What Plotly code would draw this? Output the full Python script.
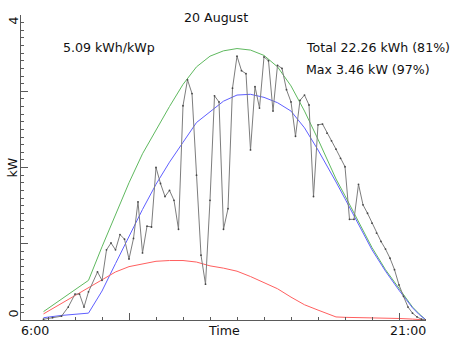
import plotly.graph_objects as go

# ---- measured output (10-minute samples) ----
meas_times = ["06:50","07:10","07:30","07:45","08:00","08:10","08:20","08:30","08:50","09:00",
              "09:10","09:20","09:30","09:40","09:50","10:00","10:10","10:20","10:30","10:40",
              "10:50","11:00","11:10","11:20","11:30","11:40","11:50","12:00","12:10","12:20",
              "12:30","12:40","12:50","13:00","13:10","13:20","13:30","13:40","13:50","14:00",
              "14:10","14:20","14:30","14:40","14:50","15:00","15:10","15:20","15:30","15:40",
              "15:50","16:00","16:10","16:20","16:30","16:40","16:50","17:00","17:10","17:20",
              "17:30","17:40","17:50","18:00","18:10","18:20","18:30","18:40","18:50","19:00",
              "19:10","19:20","19:30","19:40","19:50","20:00","20:10","20:20","20:30","20:40",
              "20:50","21:00"]
meas_kw = [0.01,0.03,0.05,0.17,0.34,0.34,0.17,0.37,0.63,0.52,
           0.92,1.01,0.92,1.12,1.06,0.80,1.07,1.55,0.88,1.23,
           1.22,2.00,1.79,1.62,1.70,1.57,1.19,2.81,3.15,2.97,
           1.90,0.85,0.47,1.57,2.94,2.86,1.19,1.46,3.04,3.46,
           3.27,3.23,2.23,3.06,2.78,3.45,3.40,2.74,3.34,3.30,
           3.02,2.86,2.41,2.88,2.95,2.82,1.62,2.56,2.57,2.45,
           2.35,2.24,2.12,2.01,1.32,1.32,1.78,1.51,1.40,1.27,
           1.14,1.03,0.93,0.81,0.66,0.46,0.31,0.17,0.09,0.04,
           0.01,0.00]

# ---- model curves ----
model_times = ["06:50","07:30","08:30","09:00","09:30","10:00","10:30","11:00","11:30","12:00",
               "12:30","13:00","13:30","14:00","14:30","15:00","15:30","16:00","16:30","17:00",
               "17:30","17:40","18:00","18:30","19:00","19:30","20:00","20:30","20:45","21:00"]
clear_total_kw = [0.11,0.27,0.52,0.96,1.39,1.80,2.18,2.50,2.80,3.09,
                  3.32,3.46,3.53,3.56,3.54,3.47,3.32,3.07,2.74,2.37,
                  1.98,1.85,1.63,1.28,0.95,0.66,0.41,0.17,0.08,0.00]
beam_kw = [0.03,0.06,0.09,0.38,0.74,1.10,1.45,1.78,2.07,2.33,
           2.59,2.73,2.87,2.95,2.96,2.92,2.85,2.74,2.52,2.23,
           1.92,1.81,1.59,1.25,0.92,0.64,0.39,0.16,0.07,0.00]
diffuse_kw = [0.08,0.22,0.43,0.53,0.63,0.70,0.74,0.77,0.78,0.78,
              0.76,0.71,0.68,0.64,0.57,0.49,0.41,0.30,0.20,0.13,
              0.06,0.04,0.035,0.033,0.03,0.025,0.02,0.012,0.008,0.0]

# ---- texts ----
title_text = "20 August"
specific_text = "5.09 kWh/kWp"
total_text = "Total 22.26 kWh (81%)"
max_text = "Max 3.46 kW (97%)"
x_labels = ["6:00", "Time", "21:00"]
y_labels = ["0", "kW", "4"]


def hours(s):
    h, m = s.split(":")
    return int(h) + int(m) / 60.0


mt = [hours(s) for s in model_times]
xt = [hours(s) for s in meas_times]

FONT = "DejaVu Sans"
FS = 12.6

fig = go.Figure()
fig.add_trace(go.Scatter(x=mt, y=clear_total_kw, mode="lines",
                         line=dict(color="rgb(95,185,95)", width=1), hoverinfo="skip"))
fig.add_trace(go.Scatter(x=mt, y=beam_kw, mode="lines",
                         line=dict(color="rgb(95,95,255)", width=1), hoverinfo="skip"))
fig.add_trace(go.Scatter(x=mt, y=diffuse_kw, mode="lines",
                         line=dict(color="rgb(255,95,95)", width=1), hoverinfo="skip"))
fig.add_trace(go.Scatter(x=xt, y=meas_kw, mode="lines+markers",
                         line=dict(color="rgb(125,125,125)", width=1),
                         marker=dict(color="rgb(70,70,70)", size=1.8), hoverinfo="skip"))

W, H = 452, 339
L, R, T, B = 21, 26, 15, 19
pw, ph = W - L - R, H - T - B


def px_x(p):
    return (p - L) / pw


def px_y(p):
    return (H - B - p) / ph


anns = []
tf = dict(family=FONT, size=FS, color="#111")
anns.append(dict(text=title_text, xref="paper", yref="paper", x=px_x(216), y=px_y(17),
                 xanchor="center", yanchor="middle", showarrow=False, font=tf))
anns.append(dict(text=specific_text, xref="paper", yref="paper", x=px_x(61), y=px_y(47),
                 xanchor="left", yanchor="middle", showarrow=False, font=tf))
anns.append(dict(text=total_text, xref="paper", yref="paper", x=px_x(304), y=px_y(47),
                 xanchor="left", yanchor="middle", showarrow=False, font=tf))
anns.append(dict(text=max_text, xref="paper", yref="paper", x=px_x(304), y=px_y(69),
                 xanchor="left", yanchor="middle", showarrow=False, font=tf))
# x axis labels
anns.append(dict(text=x_labels[0], xref="x", yref="paper", x=6, y=0, xanchor="left",
                 yanchor="top", xshift=-2, yshift=-1, showarrow=False, font=tf))
anns.append(dict(text=x_labels[1], xref="x", yref="paper", x=13.5, y=0, xanchor="center",
                 yanchor="top", yshift=-1, showarrow=False, font=tf))
anns.append(dict(text=x_labels[2], xref="x", yref="paper", x=21, y=0, xanchor="right",
                 yanchor="top", xshift=2, yshift=-1, showarrow=False, font=tf))
# y axis labels (rotated)
anns.append(dict(text=y_labels[0], xref="paper", yref="y", x=px_x(12.5), y=0, xanchor="center",
                 yanchor="bottom", textangle=-90, showarrow=False, font=tf))
anns.append(dict(text=y_labels[1], xref="paper", yref="y", x=px_x(12), y=2, xanchor="center",
                 yanchor="middle", textangle=-90, showarrow=False, font=tf))
anns.append(dict(text=y_labels[2], xref="paper", yref="y", x=px_x(12.5), y=4, xanchor="center",
                 yanchor="top", textangle=-90, showarrow=False, font=tf))

axis_col = "rgb(90,90,90)"
fig.update_layout(
    width=W, height=H,
    margin=dict(l=L, r=R, t=T, b=B, pad=0),
    paper_bgcolor="white", plot_bgcolor="white",
    showlegend=False,
    font=dict(family=FONT, size=FS, color="#111"),
    annotations=anns,
    xaxis=dict(range=[6, 21], showgrid=False, zeroline=False, showline=True,
               linecolor=axis_col, linewidth=1, showticklabels=False,
               tickmode="array", tickvals=[10, 20], ticks="inside", ticklen=7,
               tickcolor=axis_col, tickwidth=1,
               minor=dict(dtick=1, tick0=6, ticks="inside", ticklen=3,
                          tickcolor=axis_col, tickwidth=1, showgrid=False)),
    yaxis=dict(range=[0, 4], showgrid=False, zeroline=False, showline=True,
               linecolor=axis_col, linewidth=1, showticklabels=False,
               tickmode="array", tickvals=[0, 1, 2, 3, 4], ticks="inside", ticklen=7,
               tickcolor=axis_col, tickwidth=1,
               minor=dict(dtick=0.1, tick0=0, ticks="inside", ticklen=3,
                          tickcolor=axis_col, tickwidth=1, showgrid=False)),
)

fig.write_html("out.html")
